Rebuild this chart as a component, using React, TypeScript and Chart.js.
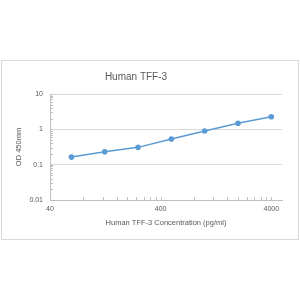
import React, { useEffect, useRef } from 'react';
import { Chart, registerables } from 'chart.js';

Chart.register(...registerables);

// Data
const concentrations = [62.5, 125, 250, 500, 1000, 2000, 4000];
const odValues = [0.164, 0.232, 0.309, 0.531, 0.895, 1.48, 2.27];

// Axis ranges and labelled ticks
const xMin = 40;
const xMax = 5000;
const xLabelValues = [40, 400, 4000];
const yMin = 0.01;
const yMax = 10;
const yLabelValues = [0.01, 0.1, 1, 10];

const chartTitle = 'Human TFF-3';
const xTitle = 'Human TFF-3 Concentration (pg/ml)';
const yTitle = 'OD 450mm';

const FONT = "'Liberation Sans', Arial, sans-serif";
const TEXT = '#595959';
const AXIS = '#bfbfbf';
const GRID = '#d9d9d9';
const BLUE = '#5b9bd5';

// minor ticks: multiples of each labelled value within its decade
function buildTicks(majors: number[], min: number, max: number): number[] {
  const out: number[] = [];
  majors.forEach((m) => {
    for (let k = 1; k <= 9; k++) {
      const v = parseFloat((m * k).toPrecision(6));
      if (v >= min - 1e-12 && v <= max + 1e-12) out.push(v);
    }
  });
  return Array.from(new Set(out)).sort((a, b) => a - b);
}
const xTicks = buildTicks(xLabelValues, xMin, xMax);
const yTicks = buildTicks(yLabelValues, yMin, yMax);

const isLabel = (list: number[], v: number) => list.some((m) => Math.abs(m - v) / m < 1e-6);

const framePlugin = {
  id: 'frame',
  beforeDraw(chart: any) {
    const ctx = chart.ctx;
    ctx.save();
    ctx.fillStyle = '#ffffff';
    ctx.fillRect(0, 0, chart.width, chart.height);
    ctx.strokeStyle = GRID;
    ctx.lineWidth = 1;
    ctx.strokeRect(1.5, 60.5, 297, 179);
    ctx.restore();
  },
  afterDraw(chart: any) {
    const ctx = chart.ctx;
    const area = chart.chartArea;
    const xs = chart.scales.x;
    const ys = chart.scales.y;
    ctx.save();
    ctx.strokeStyle = AXIS;
    ctx.lineWidth = 1;
    ctx.beginPath();
    xTicks.forEach((v) => {
      const px = Math.round(xs.getPixelForValue(v)) + 0.5;
      ctx.moveTo(px, area.bottom);
      ctx.lineTo(px, area.bottom - 3);
    });
    yTicks.forEach((v) => {
      const py = Math.round(ys.getPixelForValue(v)) + 0.5;
      ctx.moveTo(area.left, py);
      ctx.lineTo(area.left + 3, py);
    });
    ctx.stroke();
    // chart title
    ctx.fillStyle = TEXT;
    ctx.font = `10px ${FONT}`;
    ctx.textAlign = 'center';
    ctx.textBaseline = 'middle';
    ctx.fillText(chartTitle, 136, 77);
    ctx.restore();
  },
};

export default function App() {
  const ref = useRef<HTMLCanvasElement | null>(null);
  useEffect(() => {
    if (!ref.current) return;
    const chart = new Chart(ref.current, {
      type: 'line',
      data: {
        datasets: [
          {
            data: concentrations.map((c, i) => ({ x: c, y: odValues[i] })),
            borderColor: BLUE,
            backgroundColor: BLUE,
            borderWidth: 1.5,
            pointRadius: 2.8,
            pointBorderWidth: 0,
            pointBackgroundColor: BLUE,
            tension: 0,
          },
        ],
      },
      options: {
        animation: false,
        responsive: false,
        layout: { padding: { top: 94, left: 0, right: 18, bottom: 61 } },
        plugins: { legend: { display: false }, title: { display: false }, tooltip: { enabled: false } },
        scales: {
          x: {
            type: 'logarithmic',
            min: xMin,
            max: xMax,
            afterBuildTicks: (s: any) => {
              s.ticks = xTicks.map((v) => ({ value: v }));
            },
            afterFit: (s: any) => {
              s.height = 39;
            },
            ticks: {
              autoSkip: false,
              maxRotation: 0,
              minRotation: 0,
              padding: 5,
              color: TEXT,
              font: { family: FONT, size: 7 },
              callback: (v: any) => (isLabel(xLabelValues, Number(v)) ? String(Number(v)) : ''),
            },
            grid: { display: false, drawTicks: false },
            border: { display: true, color: AXIS, width: 1 },
            title: {
              display: true,
              text: xTitle,
              color: TEXT,
              font: { family: FONT, size: 7.5 },
              padding: { top: 0, bottom: 11.8 },
            },
          },
          y: {
            type: 'logarithmic',
            min: yMin,
            max: yMax,
            afterBuildTicks: (s: any) => {
              s.ticks = yTicks.map((v) => ({ value: v }));
            },
            afterFit: (s: any) => {
              s.width = 50;
            },
            ticks: {
              autoSkip: false,
              padding: 7,
              color: TEXT,
              font: { family: FONT, size: 7 },
              callback: (v: any) => (isLabel(yLabelValues, Number(v)) ? String(Number(v)) : ''),
            },
            grid: {
              drawTicks: false,
              lineWidth: 1,
              color: (ctx: any) => (ctx.tick && isLabel(yLabelValues, ctx.tick.value) ? GRID : 'rgba(0,0,0,0)'),
            },
            border: { display: true, color: AXIS, width: 1 },
            title: {
              display: true,
              text: yTitle,
              color: TEXT,
              font: { family: FONT, size: 7.5 },
              padding: { top: 14.5, bottom: 0 },
            },
          },
        },
      },
      plugins: [framePlugin],
    } as any);
    return () => chart.destroy();
  }, []);
  return (
    <div style={{ position: 'absolute', left: 0, top: 0, width: 300, height: 300 }}>
      <canvas ref={ref} width={300} height={300} style={{ display: 'block' }} />
    </div>
  );
}
